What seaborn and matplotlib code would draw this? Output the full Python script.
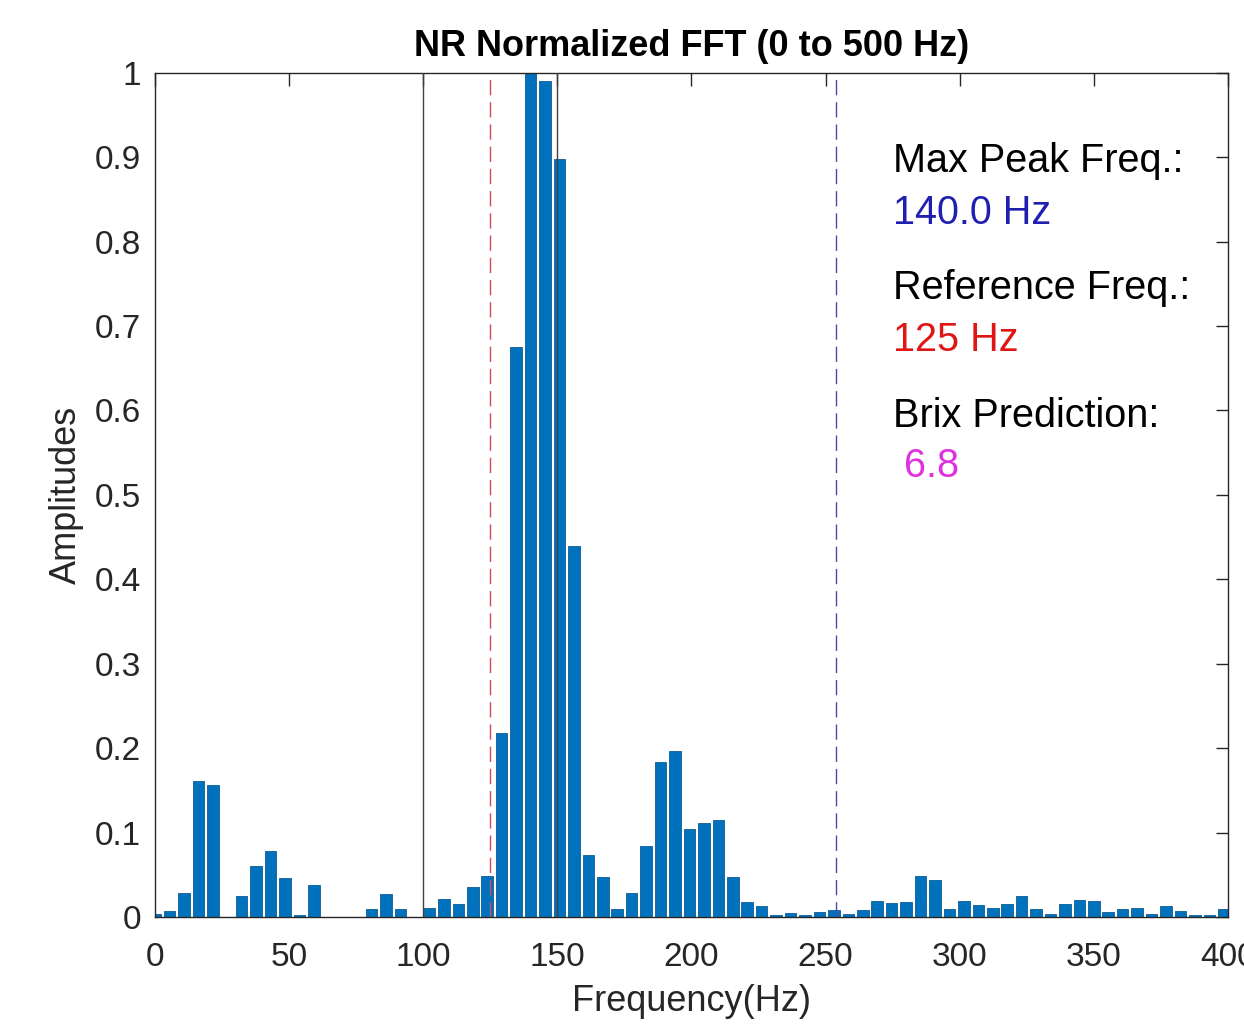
import numpy as np
import pandas as pd
import matplotlib
matplotlib.use('Agg')
import matplotlib.pyplot as plt
import seaborn as sns

# ---- data ----
# FFT bin frequencies (Hz), bin spacing ~5.385 Hz
freqs = [0.0, 5.38, 10.77, 16.15, 21.54, 26.92, 32.31, 37.69, 43.08, 48.46,
         53.85, 59.23, 64.62, 70.0, 75.38, 80.77, 86.15, 91.54, 96.92, 102.31,
         107.69, 113.08, 118.46, 123.85, 129.23, 134.62, 140.0, 145.38, 150.77, 156.15,
         161.54, 166.92, 172.31, 177.69, 183.08, 188.46, 193.85, 199.23, 204.62, 210.0,
         215.38, 220.77, 226.15, 231.54, 236.92, 242.31, 247.69, 253.08, 258.46, 263.85,
         269.23, 274.62, 280.0, 285.38, 290.77, 296.15, 301.54, 306.92, 312.31, 317.69,
         323.08, 328.46, 333.85, 339.23, 344.62, 350.0, 355.38, 360.77, 366.15, 371.54,
         376.92, 382.31, 387.69, 393.08, 398.46]
amps = [0.004, 0.007, 0.028, 0.161, 0.156, 0.0, 0.025, 0.060, 0.078, 0.046,
        0.003, 0.038, 0.0, 0.0, 0.0, 0.009, 0.027, 0.009, 0.0, 0.011,
        0.021, 0.016, 0.035, 0.049, 0.218, 0.675, 1.000, 0.990, 0.898, 0.440,
        0.073, 0.047, 0.009, 0.028, 0.084, 0.184, 0.197, 0.104, 0.111, 0.115,
        0.047, 0.018, 0.013, 0.002, 0.005, 0.002, 0.006, 0.008, 0.004, 0.008,
        0.019, 0.017, 0.018, 0.049, 0.044, 0.009, 0.019, 0.014, 0.011, 0.015,
        0.025, 0.009, 0.004, 0.015, 0.020, 0.019, 0.006, 0.010, 0.011, 0.004,
        0.013, 0.007, 0.003, 0.003, 0.010]

band_lines = [100, 150]      # solid black markers
ref_freq = 125               # red dashed
upper_freq = 254             # blue dashed
peak_freq = 140.0
brix = 6.8

xticks = [0, 50, 100, 150, 200, 250, 300, 350, 400]
yticks = [0, 0.1, 0.2, 0.3, 0.4, 0.5, 0.6, 0.7, 0.8, 0.9, 1]
ytick_labels = ['0', '0.1', '0.2', '0.3', '0.4', '0.5', '0.6', '0.7', '0.8', '0.9', '1']

df = pd.DataFrame({'freq': freqs, 'amp': amps})

sns.set_theme(style='white')
plt.rcParams['font.family'] = ['Liberation Sans', 'DejaVu Sans']

fig = plt.figure(figsize=(12.44, 10.26), dpi=100)
ax = fig.add_axes([0.1246, 0.1062, 0.8625, 0.8229])

sns.barplot(data=df, x='freq', y='amp', native_scale=True, color='#0072BD',
            saturation=1, width=0.8, errorbar=None, ax=ax,
            edgecolor='#0b5c96', linewidth=0.6)

for f in band_lines:
    ax.axvline(f, color='#404040', linewidth=1.0, zorder=3)
ax.axvline(ref_freq, color='#d24a5a', linewidth=1.0, linestyle=(0, (11, 5)), zorder=3)
ax.axvline(upper_freq, color='#4a4aa8', linewidth=1.0, linestyle=(0, (11, 5)), zorder=3)

ax.set_xlim(0, 400)
ax.set_ylim(0, 1)
ax.set_xticks(xticks)
ax.set_xticklabels([str(t) for t in xticks])
ax.set_yticks(yticks)
ax.set_yticklabels(ytick_labels)

ax.tick_params(direction='in', top=True, right=True, length=9, width=1,
               colors='#262626', labelsize=24)
ax.tick_params(axis='y', pad=10)
ax.tick_params(axis='x', pad=18)
for sp in ax.spines.values():
    sp.set_visible(True)
    sp.set_color('#262626')
    sp.set_linewidth(1.0)

ax.set_xlabel('Frequency(Hz)', fontsize=26, color='#262626', labelpad=8)
ax.set_ylabel('Amplitudes', fontsize=26, color='#262626', labelpad=8)
ax.set_title('NR Normalized FFT (0 to 500 Hz)', fontsize=26, fontweight='bold',
             color='black', pad=12)

# annotation block on the right
tx = 275
fs = 28.5
ax.text(tx, 0.895, 'Max Peak Freq.:', fontsize=fs, color='black', va='center')
ax.text(tx, 0.834, '%.1f Hz' % peak_freq, fontsize=fs, color='#2020b0', va='center')
ax.text(tx, 0.745, 'Reference Freq.:', fontsize=fs, color='black', va='center')
ax.text(tx, 0.683, '%d Hz' % ref_freq, fontsize=fs, color='#e01515', va='center')
ax.text(tx, 0.594, 'Brix Prediction:', fontsize=fs, color='black', va='center')
ax.text(tx, 0.534, ' %.1f' % brix, fontsize=fs, color='#e030e0', va='center')

plt.savefig('out.png', dpi=100)
plt.close()
